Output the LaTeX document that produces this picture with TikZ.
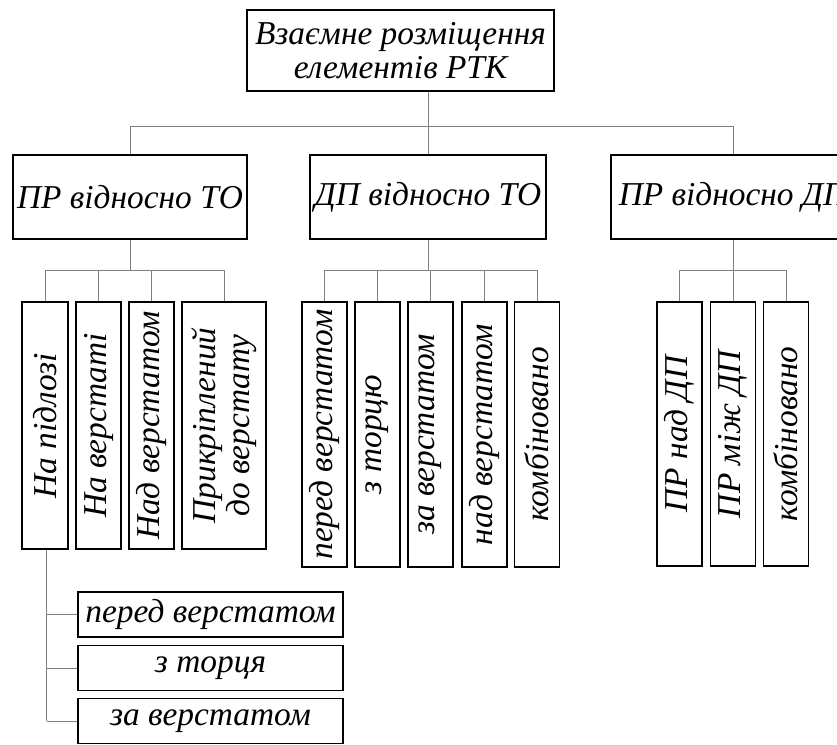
\documentclass[tikz,border=0pt]{standalone}
\usepackage{fontspec}
\setmainfont{Liberation Serif}
\usetikzlibrary{positioning, calc}

\begin{document}
\begin{tikzpicture}[
    x=0.02cm, y=-0.02cm,
    box/.style={draw, line width=0.9pt, inner sep=0pt, align=center,
        font=\fontsize{19}{19.5}\selectfont\itshape},
    vbox/.style={box, rotate=90, minimum height=0.9cm},
    hbox/.style={box, minimum width=5.3cm, minimum height=0.9cm},
    link/.style={line width=0.5pt, black!50}
]
\useasboundingbox (0,0) rectangle (837,744);
\clip (0,0) rectangle (837,744);

% Root
\node[box, minimum width=6.14cm, minimum height=1.62cm] (root) at (400.5,50.5)
    {Взаємне розміщення\\елементів РТК};

% Level 2
\node[box, minimum width=4.68cm, minimum height=1.68cm] (prto) at (130,197) {ПР відносно ТО};
\node[box, minimum width=4.72cm, minimum height=1.68cm] (dpto) at (428,197) {ДП відносно ТО};
\node[box, minimum width=4.88cm, minimum height=1.68cm] (prdp) at (733,197) {ПР відносно ДП};

\coordinate (bus1) at (0,126);
\coordinate (bus2) at (0,270);

\draw[link] (root.south -| dpto.north) -- (dpto.north);
\draw[link] (prto.north) -- (prto.north |- bus1) -- (prdp.north |- bus1) -- (prdp.north);

% PR vs TO
\node[vbox, minimum width=4.94cm, minimum height=0.92cm] (floor) at (45,425.5) {На підлозі};
\node[vbox, minimum width=4.94cm] (onmach) at (98.5,425.5) {На верстаті};
\node[vbox, minimum width=4.94cm] (overmach) at (151.5,425.5) {Над верстатом};
\node[vbox, minimum width=4.94cm, minimum height=1.68cm] (fixed) at (224,425.5)
    {Прикріплений\\до верстату};

% DP vs TO
\node[vbox, minimum width=5.3cm] (front) at (324.5,434.5) {перед верстатом};
\node[vbox, minimum width=5.3cm] (endface) at (377.5,434.5) {з торцю};
\node[vbox, minimum width=5.3cm] (behind) at (430.5,434.5) {за верстатом};
\node[vbox, minimum width=5.3cm] (above) at (484.5,434.5) {над верстатом};
\node[vbox, minimum width=5.3cm] (combo) at (537,434.5) {комбіновано};

% PR vs DP
\node[vbox, minimum width=5.28cm] (prover) at (679.5,434) {ПР над ДП};
\node[vbox, minimum width=5.28cm] (prbetween) at (733,434) {ПР між ДП};
\node[vbox, minimum width=5.28cm] (combob) at (786,434) {комбіновано};

\draw[link] (prto.south) -- (prto.south |- bus2);
\draw[link] (floor.east |- bus2) -- (fixed.east |- bus2);
\foreach \n in {floor, onmach, overmach, fixed}
    \draw[link] (\n.east |- bus2) -- (\n.east);

\draw[link] (dpto.south) -- (dpto.south |- bus2);
\draw[link] (front.east |- bus2) -- (combo.east |- bus2);
\foreach \n in {front, endface, behind, above, combo}
    \draw[link] (\n.east |- bus2) -- (\n.east);

\draw[link] (prdp.south) -- (prdp.south |- bus2);
\draw[link] (prover.east |- bus2) -- (combob.east |- bus2);
\foreach \n in {prover, prbetween, combob}
    \draw[link] (\n.east |- bus2) -- (\n.east);

% Floor placement
\node[hbox] (sfront) at (210.5,614.5) {перед верстатом};
\node[hbox] (send) at (210.5,668) {з торця};
\node[hbox] (sbehind) at (210.5,721) {за верстатом};

\draw[link] ([xshift=0.03cm]floor.west) -- ([xshift=0.03cm]floor.west |- sbehind.west);
\foreach \n in {sfront, send, sbehind}
    \draw[link] ([xshift=0.03cm]floor.west |- \n.west) -- (\n.west);

\end{tikzpicture}
\end{document}
